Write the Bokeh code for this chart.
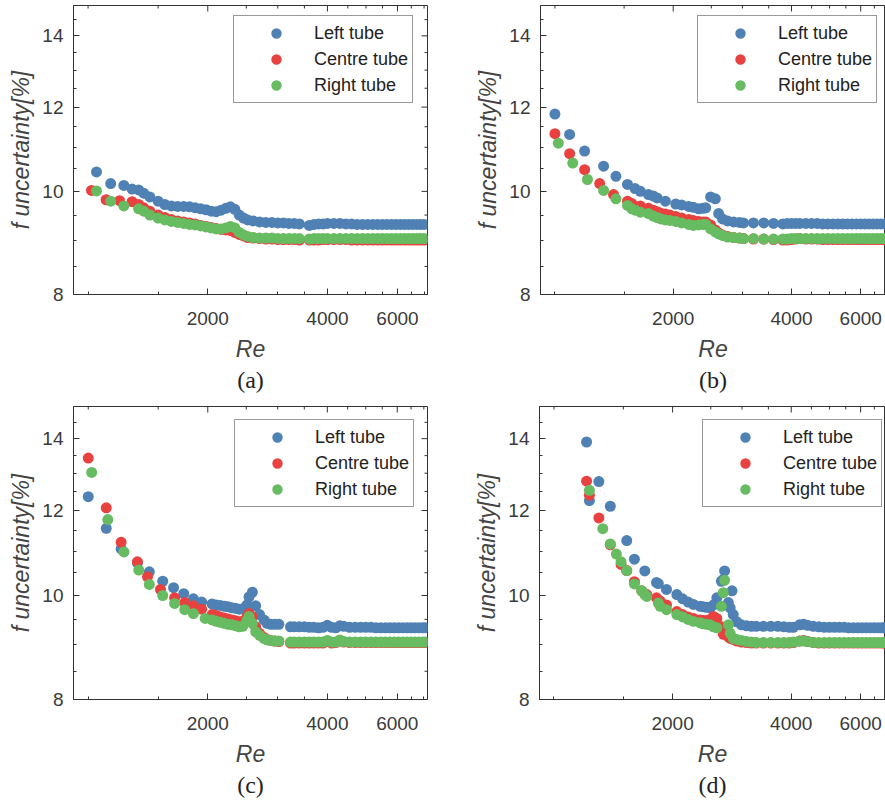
import math
from bokeh.plotting import figure
from bokeh.models import FixedTicker, BasicTickFormatter, Legend, LegendItem, Title
from bokeh.layouts import column, row
from bokeh.embed import file_html
from bokeh.resources import INLINE

nan = float("nan")

# ---------------- data ----------------
series_names = ["Left tube", "Centre tube", "Right tube"]
series_colors = ["#4F81B4", "#E8413F", "#67BB60"]

x_ticks = [2000, 4000, 6000]
x_minor = [1000, 1500, 2500, 3000, 3500, 4500, 5000, 5500, 6500, 7000]
y_ticks = [8, 10, 12, 14]
y_minor = [8.5, 9, 9.5, 10.5, 11, 11.5, 12.5, 13, 13.5, 14.5]

# (a)
re_a = [1020, 1050, 1110, 1140, 1200, 1230, 1290, 1340, 1380, 1430,
        1500, 1560, 1620, 1680, 1740, 1800, 1860, 1920, 1980, 2040,
        2100, 2160, 2220, 2280, 2340, 2400, 2460, 2520, 2600, 2700,
        2800, 2900, 3000, 3100, 3200, 3300, 3400, 3600, 3700, 3800,
        3900, 4000, 4150, 4300, 4450, 4600, 4750, 4900, 5050, 5200,
        5350, 5500, 5650, 5800, 5950, 6100, 6250, 6400, 6550, 6700,
        6850, 7000]
left_a = [nan, 10.43, nan, 10.17, nan, 10.13, 10.05, 10.03, 9.96, 9.88,
          9.79, 9.72, 9.69, 9.68, 9.68, 9.67, 9.65, 9.63, 9.61, 9.58,
          9.57, 9.60, 9.64, 9.67, 9.62, 9.50, 9.44, 9.40, 9.38, 9.36,
          9.35, 9.35, 9.34, 9.34, 9.33, 9.33, 9.32, 9.29, 9.31, 9.32,
          9.32, 9.33, 9.33, 9.33, 9.32, 9.32, 9.31, 9.31, 9.31, 9.31,
          9.31, 9.31, 9.31, 9.31, 9.31, 9.31, 9.31, 9.31, 9.31, 9.31,
          9.31, 9.31]
centre_a = [10.02, nan, 9.82, nan, 9.80, nan, 9.78, 9.72, 9.65, 9.58,
            9.50, 9.45, 9.41, 9.38, 9.36, 9.34, 9.32, 9.29, 9.27, 9.25,
            9.23, 9.21, 9.20, 9.19, 9.15, 9.11, 9.08, 9.05, 9.04, 9.03,
            9.02, 9.02, 9.01, 9.01, 9.01, 9.01, 9.00, 9.00, 9.00, 9.00,
            9.01, 9.01, 9.01, 9.01, 9.01, 9.00, 9.00, 9.00, 9.00, 9.00,
            9.00, 9.00, 9.00, 9.00, 9.00, 9.00, 9.00, 9.00, 9.00, 9.00,
            9.00, 9.00]
right_a = [nan, 10.01, nan, 9.79, nan, 9.69, nan, 9.63, 9.58, 9.50,
           9.44, 9.40, 9.37, 9.35, 9.33, 9.31, 9.30, 9.28, 9.26, 9.24,
           9.22, 9.22, 9.24, 9.27, 9.24, 9.15, 9.10, 9.07, 9.05, 9.04,
           9.04, 9.04, 9.03, 9.03, 9.03, 9.03, 9.03, 9.02, 9.03, 9.03,
           9.03, 9.03, 9.03, 9.03, 9.03, 9.03, 9.03, 9.03, 9.03, 9.03,
           9.03, 9.03, 9.03, 9.03, 9.03, 9.03, 9.03, 9.03, 9.03, 9.03,
           9.03, 9.03]

# (b)
re_b = [1000, 1020, 1090, 1110, 1190, 1210, 1300, 1330, 1410, 1430,
        1530, 1570, 1600, 1650, 1730, 1780, 1820, 1860, 1910, 1960,
        2030, 2100, 2190, 2250, 2320, 2380, 2420, 2490, 2560, 2610,
        2670, 2750, 2850, 2950, 3020, 3200, 3400, 3600, 3800, 3900,
        4000, 4100, 4200, 4350, 4500, 4650, 4800, 4950, 5100, 5250,
        5400, 5550, 5700, 5850, 6000, 6150, 6300, 6450, 6600, 6750,
        6900]
left_b = [11.82, nan, 11.31, nan, 10.91, nan, nan, 10.56, nan, 10.33,
          10.15, nan, 10.06, 10.00, 9.93, 9.90, 9.86, nan, 9.79, nan,
          9.73, 9.71, 9.68, 9.66, 9.63, 9.64, 9.65, 9.88, 9.84, 9.53,
          9.42, 9.38, 9.36, 9.35, 9.34, 9.34, 9.34, 9.33, 9.32, 9.33,
          9.33, 9.33, 9.33, 9.33, 9.33, 9.33, 9.32, 9.32, 9.32, 9.32,
          9.32, 9.32, 9.32, 9.32, 9.32, 9.32, 9.32, 9.32, 9.32, 9.32,
          9.32]
centre_b = [11.33, nan, 10.85, nan, 10.48, nan, 10.17, nan, 9.93, nan,
            9.79, 9.74, nan, 9.69, 9.64, 9.60, 9.57, 9.54, 9.52, 9.50,
            9.47, 9.44, 9.41, 9.39, 9.37, 9.36, 9.36, 9.30, 9.20, 9.14,
            9.10, 9.07, 9.05, 9.04, 9.03, 9.02, 9.02, 9.01, 9.00, 9.00,
            9.01, 9.02, 9.03, 9.02, 9.02, 9.02, 9.01, 9.01, 9.01, 9.01,
            9.01, 9.01, 9.01, 9.01, 9.01, 9.01, 9.01, 9.01, 9.01, 9.01,
            9.01]
right_b = [nan, 11.10, nan, 10.63, nan, 10.26, nan, 10.02, nan, 9.84,
           9.70, 9.63, 9.60, 9.56, 9.53, 9.48, 9.45, 9.42, 9.40, 9.39,
           9.37, 9.34, 9.31, 9.29, 9.30, 9.31, 9.31, 9.22, 9.16, 9.12,
           9.09, 9.06, 9.05, 9.04, 9.03, 9.03, 9.02, 9.02, 9.02, 9.02,
           9.03, 9.03, 9.03, 9.03, 9.03, 9.03, 9.03, 9.03, 9.03, 9.03,
           9.03, 9.03, 9.03, 9.03, 9.03, 9.03, 9.03, 9.03, 9.03, 9.03,
           9.03]

# (c)
re_c = [1000, 1020, 1110, 1120, 1210, 1230, 1330, 1340, 1410, 1425,
        1520, 1540, 1640, 1650, 1740, 1750, 1840, 1930, 1970, 2050,
        2100, 2150, 2200, 2250, 2300, 2350, 2400, 2450, 2510, 2540,
        2590, 2640, 2700, 2770, 2820, 2880, 2950, 3020, 3230, 3300,
        3400, 3500, 3600, 3700, 3800, 3900, 4000, 4100, 4200, 4300,
        4400, 4550, 4700, 4850, 5000, 5150, 5300, 5450, 5600, 5750,
        5900, 6050, 6200, 6350, 6500, 6650, 6800, 6950, 7050]
left_c = [12.36, nan, 11.55, nan, 11.05, nan, 10.72, nan, nan, 10.52,
          nan, 10.31, 10.17, nan, 10.04, nan, 9.93, 9.86, nan, 9.82,
          9.80, 9.79, 9.77, 9.76, 9.74, 9.73, 9.71, 9.72, 9.80, 9.97,
          10.07, 9.78, 9.60, 9.49, 9.42, 9.40, 9.40, 9.40, 9.35, 9.35,
          9.35, 9.35, 9.34, 9.34, 9.33, 9.34, 9.38, 9.34, 9.33, 9.37,
          9.36, 9.34, 9.34, 9.34, 9.34, 9.34, 9.33, 9.33, 9.33, 9.33,
          9.33, 9.33, 9.33, 9.33, 9.33, 9.33, 9.33, 9.33, 9.33]
centre_c = [13.43, nan, 12.07, nan, 11.21, nan, 10.75, nan, 10.41, nan,
            10.13, nan, nan, 9.95, nan, 9.85, 9.78, 9.71, nan, 9.60,
            9.58, 9.55, 9.53, 9.51, 9.49, 9.47, 9.45, 9.46, 9.56, 9.62,
            9.55, 9.35, 9.22, 9.14, 9.10, 9.08, 9.07, 9.06, 9.03, 9.03,
            9.03, 9.03, 9.03, 9.03, 9.03, 9.03, 9.07, 9.03, 9.04, 9.08,
            9.05, 9.04, 9.04, 9.04, 9.04, 9.04, 9.04, 9.04, 9.04, 9.04,
            9.04, 9.04, 9.04, 9.04, 9.04, 9.04, 9.04, 9.04, 9.04]
right_c = [nan, 13.02, nan, 11.77, nan, 10.98, nan, 10.56, nan, 10.24,
           nan, 10.00, nan, 9.83, nan, 9.70, 9.62, nan, 9.52, 9.49,
           9.46, 9.44, 9.42, 9.40, 9.39, 9.37, 9.35, 9.36, 9.48, 9.56,
           9.42, 9.25, 9.18, 9.12, 9.09, 9.08, 9.07, 9.07, 9.05, 9.05,
           9.05, 9.05, 9.05, 9.05, 9.05, 9.05, 9.08, 9.05, 9.05, 9.09,
           9.06, 9.05, 9.05, 9.05, 9.05, 9.05, 9.05, 9.05, 9.05, 9.05,
           9.05, 9.05, 9.05, 9.05, 9.05, 9.05, 9.05, 9.05, 9.05]

# (d)
re_d = [1210, 1230, 1300, 1330, 1390, 1440, 1480, 1530, 1600, 1670,
        1700, 1720, 1820, 1840, 1860, 1930, 2050, 2120, 2190, 2260,
        2350, 2390, 2440, 2490, 2540, 2590, 2660, 2690, 2710, 2770,
        2800, 2830, 2850, 2910, 2990, 3080, 3170, 3260, 3400, 3550,
        3700, 3830, 3950, 4050, 4200, 4300, 4400, 4550, 4700, 4850,
        5000, 5150, 5300, 5450, 5600, 5750, 5900, 6050, 6200, 6350,
        6500, 6650, 6800, 6900]
left_d = [13.90, 12.26, 12.77, nan, 12.11, nan, nan, 11.25, 10.81, nan,
          10.54, nan, 10.28, 10.26, nan, 10.13, 10.02, 9.93, 9.86, 9.81,
          9.77, 9.76, 9.75, 9.74, 9.80, 9.95, 10.31, 10.35, 10.54, 9.85,
          9.74, 10.10, 9.60, 9.45, 9.39, 9.37, 9.36, 9.36, 9.36, 9.36,
          9.36, 9.35, 9.34, 9.34, 9.39, 9.40, 9.38, 9.36, 9.35, 9.34,
          9.34, 9.34, 9.34, 9.34, 9.33, 9.33, 9.33, 9.33, 9.33, 9.33,
          9.33, 9.33, 9.33, 9.33]
centre_d = [12.78, 12.40, 11.81, nan, 11.15, nan, 10.69, 10.55, 10.30, 10.10,
            nan, 10.02, 9.95, nan, 9.88, 9.80, 9.66, 9.60, 9.55, 9.52,
            9.49, 9.48, 9.48, 9.50, 9.56, 9.52, 9.35, 9.20, nan, 9.15,
            9.12, nan, 9.10, 9.07, 9.05, 9.04, 9.03, 9.03, 9.03, 9.03,
            9.03, 9.03, 9.03, 9.04, 9.07, 9.08, 9.06, 9.04, 9.03, 9.03,
            9.03, 9.03, 9.03, 9.03, 9.03, 9.03, 9.03, 9.03, 9.03, 9.03,
            9.03, 9.03, 9.03, 9.03]
right_d = [nan, 12.53, nan, 11.54, 11.17, 10.93, 10.75, 10.55, 10.25, 10.10,
           10.02, 9.98, nan, 9.84, 9.77, 9.70, 9.60, 9.55, 9.50, 9.46,
           9.43, 9.41, 9.40, 9.39, 9.35, 9.33, 9.77, 10.06, 10.33, 9.39,
           9.22, nan, 9.12, 9.10, 9.08, 9.06, 9.05, 9.04, 9.04, 9.04,
           9.04, 9.04, 9.04, 9.05, 9.07, 9.07, 9.06, 9.04, 9.04, 9.04,
           9.04, 9.04, 9.04, 9.04, 9.04, 9.04, 9.04, 9.04, 9.04, 9.04,
           9.04, 9.04, 9.04, 9.04]

FRAME = "#333333"
TICK_TXT = "#3a3a3a"


def make_panel(re, left, centre, right, tag, x_range, y_range, width, height,
               bl, br, bt, bb, legend_xy, right_ticks):
    p = figure(width=width, height=height, x_axis_type="log", y_axis_type="log",
               x_range=x_range, y_range=y_range, title=None,
               output_backend="svg", toolbar_location=None,
               min_border_left=bl, min_border_right=br,
               min_border_top=bt, min_border_bottom=bb)
    p.background_fill_color = "white"
    p.border_fill_color = "white"
    p.outline_line_color = FRAME
    p.outline_line_width = 1
    p.xgrid.visible = False
    p.ygrid.visible = False

    p.xaxis.ticker = FixedTicker(ticks=x_ticks, minor_ticks=x_minor)
    p.yaxis.ticker = FixedTicker(ticks=y_ticks, minor_ticks=y_minor)
    p.xaxis.formatter = BasicTickFormatter(use_scientific=False)
    p.yaxis.formatter = BasicTickFormatter(use_scientific=False)
    for ax in (p.xaxis[0], p.yaxis[0]):
        ax.axis_line_color = FRAME
        ax.major_tick_line_color = FRAME
        ax.minor_tick_line_color = FRAME
        ax.major_tick_in = 6
        ax.major_tick_out = 0
        ax.minor_tick_in = 3
        ax.minor_tick_out = 0
        ax.major_label_text_font = "Liberation Sans"
        ax.major_label_text_font_size = "19px"
        ax.major_label_text_color = TICK_TXT
        ax.axis_label_text_font = "Liberation Sans"
        ax.axis_label_text_font_size = "23px"
        ax.axis_label_text_font_style = "italic"
        ax.axis_label_text_color = "#444444"
    p.xaxis.axis_label = "Re"
    p.yaxis.axis_label = "f uncertainty[%]"
    p.xaxis.major_label_standoff = 17
    p.xaxis.axis_label_standoff = 8
    p.yaxis.major_label_standoff = 10
    p.yaxis.axis_label_standoff = 5

    # mirrored frame ticks (top, and right where the frame is visible)
    p.scatter(x_ticks, [y_range[1]] * len(x_ticks), marker="dash", angle=math.pi / 2,
              size=12, line_color=FRAME, line_width=1)
    p.scatter(x_minor, [y_range[1]] * len(x_minor), marker="dash", angle=math.pi / 2,
              size=6, line_color=FRAME, line_width=1)
    if right_ticks:
        p.scatter([x_range[1]] * len(y_ticks), y_ticks, marker="dash",
                  size=12, line_color=FRAME, line_width=1)
        p.scatter([x_range[1]] * len(y_minor), y_minor, marker="dash",
                  size=6, line_color=FRAME, line_width=1)

    rends = []
    for vals, col in zip((left, centre, right), series_colors):
        r = p.scatter(re, vals, size=11, fill_color=col, line_color=None)
        rends.append(r)

    legend = Legend(items=[LegendItem(label=n, renderers=[r])
                           for n, r in zip(series_names, rends)],
                    location=legend_xy)
    legend.border_line_color = FRAME
    legend.border_line_width = 1.5
    legend.background_fill_color = "white"
    legend.background_fill_alpha = 1
    legend.label_text_font = "Liberation Sans"
    legend.label_text_font_size = "18px"
    legend.label_text_color = "#222222"
    legend.padding = 4
    legend.spacing = 0
    legend.margin = 0
    legend.glyph_width = 76
    legend.glyph_height = 26
    legend.label_height = 20
    legend.label_standoff = 0
    p.add_layout(legend)

    p.add_layout(Title(text=tag, align="center", text_font="Liberation Serif",
                       text_font_size="24px", text_font_style="normal",
                       text_color="#222222", standoff=1), "below")
    return p


pa = make_panel(re_a, left_a, centre_a, right_a, "(a)", (919, 7140), (8, 14.95),
                440, 400, 73, 13, 5, 106, (160, 191), True)
pb = make_panel(re_b, left_b, centre_b, right_b, "(b)", (919, 6938), (8, 14.95),
                445, 400, 100, 0, 5, 106, (157, 191), False)
pc = make_panel(re_c, left_c, centre_c, right_c, "(c)", (918, 7150), (8, 15.0),
                440, 402, 73, 13, 6, 103, (161, 192), True)
pd = make_panel(re_d, left_d, centre_d, right_d, "(d)", (919, 6938), (8, 15.0),
                445, 402, 99, 0, 6, 103, (163, 192), False)

layout = column(row(pa, pb), row(pc, pd))
open("out.html", "w").write(file_html(layout, INLINE))
